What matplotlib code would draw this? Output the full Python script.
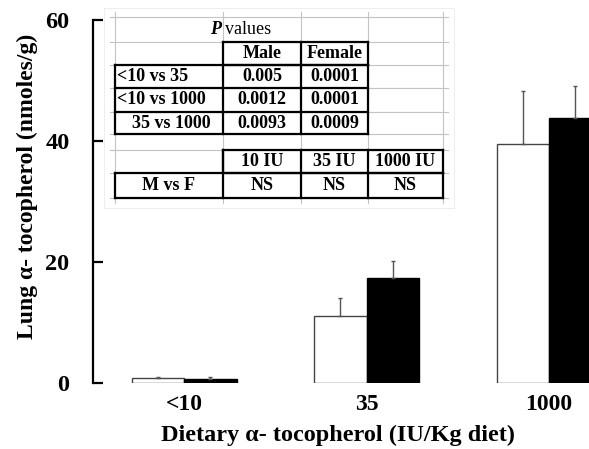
import matplotlib
matplotlib.use("Agg")
import matplotlib.pyplot as plt
import numpy as np

plt.rcParams['font.family'] = ['Liberation Serif', 'DejaVu Serif']
plt.rcParams['font.weight'] = 'bold'

# ---- data ----
categories = ["<10", "35", "1000"]
male_means = [0.8, 11.1, 39.5]
male_err = [0.25, 2.9, 8.8]
female_means = [0.7, 17.4, 43.8]
female_err = [0.3, 2.8, 5.3]
yticks = [0, 20, 40, 60]

# inset table content
pv_cols = ["Male", "Female"]
pv_rows = ["<10 vs 35", "<10 vs 1000", "35 vs 1000"]
pv_male = ["0.005", "0.0012", "0.0093"]
pv_female = ["0.0001", "0.0001", "0.0009"]
mf_cols = ["10 IU", "35 IU", "1000 IU"]
mf_vals = ["NS", "NS", "NS"]

W, H = 589, 449
fig = plt.figure(figsize=(W / 100, H / 100), dpi=100)
fig.patch.set_facecolor('white')

ax_left, ax_bot, ax_top = 93, 383, 20
ax = fig.add_axes([ax_left / W, (H - ax_bot) / H, (W - ax_left) / W, (ax_bot - ax_top) / H])
ax.set_ylim(0, 60)
px_per = 182.5
xmin = -(184 - ax_left) / px_per
ax.set_xlim(xmin, xmin + (W - ax_left) / px_per)

x = np.arange(len(categories))
bw = 52.5 / px_per
ax.bar(x - bw / 2, male_means, bw, color='white', edgecolor='#444444', linewidth=1.0,
       yerr=[np.zeros(3), male_err], ecolor='#555555', capsize=1.5, error_kw=dict(elinewidth=1.0, capthick=1.0),
       zorder=2)
ax.bar(x + bw / 2, female_means, bw, color='black', edgecolor='black', linewidth=1.0,
       yerr=[np.zeros(3), female_err], ecolor='#555555', capsize=1.5, error_kw=dict(elinewidth=1.0, capthick=1.0),
       zorder=2)

for s in ['top', 'right', 'bottom']:
    ax.spines[s].set_visible(False)
ax.spines['left'].set_linewidth(1.6)
ax.set_yticks(yticks)
ax.set_yticklabels([str(t) for t in yticks], fontsize=17.5, fontweight='bold')
ax.tick_params(axis='y', direction='in', length=7.5, width=1.6, pad=17)
ax.set_xticks(x)
ax.set_xticklabels(categories, fontsize=17, fontweight='bold')
ax.tick_params(axis='x', length=0, pad=8)

fig.text(338 / W, 1 - 435 / H, "Dietary \u03b1- tocopherol (IU/Kg diet)", ha='center', va='center',
         fontsize=17.5, fontweight='bold')
fig.text(27 / W, 1 - 186 / H, "Lung \u03b1- tocopherol (nmoles/g)", ha='center', va='center',
         rotation=90, fontsize=17, fontweight='bold')

# ---- inset table (pixel coordinates overlay) ----
ov = fig.add_axes([0, 0, 1, 1], zorder=5)
ov.set_xlim(0, W)
ov.set_ylim(H, 0)
ov.axis('off')

xs = [115, 223, 301, 368, 443]
ys = [17, 42, 65, 88, 112, 134, 150, 173, 198]
ov.add_patch(plt.Rectangle((104, 8), 350, 200, facecolor='white', edgecolor='#eeeeee', lw=0.8, zorder=1))
grey = '#c4c4c4'
for xv in xs:
    ov.plot([xv, xv], [12, 203], color=grey, lw=0.8, zorder=2)
for yv in ys:
    ov.plot([110, 448], [yv, yv], color=grey, lw=0.8, zorder=2)

lw = 1.6
def seg(x0, y0, x1, y1):
    ov.plot([x0, x1], [y0, y1], color='black', lw=lw, zorder=3, solid_capstyle='projecting')

def rect(x0, y0, x1, y1):
    seg(x0, y0, x1, y0); seg(x1, y0, x1, y1); seg(x1, y1, x0, y1); seg(x0, y1, x0, y0)

rect(223, 42, 368, 65)
seg(301, 42, 301, 65)
rect(115, 65, 368, 134)
seg(223, 65, 223, 134); seg(301, 65, 301, 134)
seg(115, 88, 368, 88); seg(115, 112, 368, 112)
rect(223, 150, 443, 173)
rect(115, 173, 443, 198)
seg(223, 150, 223, 198); seg(301, 150, 301, 198); seg(368, 150, 368, 198)

tfs = 13
ov.text(221, 30, "P", ha='right', va='center', fontsize=tfs, fontstyle='italic', fontweight='bold', zorder=4)
ov.text(225, 30, "values", ha='left', va='center', fontsize=tfs, fontweight='normal', zorder=4)
colc = [(xs[i] + xs[i + 1]) / 2 for i in range(4)]
for i, c in enumerate(pv_cols):
    ov.text(colc[1 + i], 53.5, c, ha='center', va='center', fontsize=tfs, fontweight='bold', zorder=4)
rowc = [(ys[2 + i] + ys[3 + i]) / 2 for i in range(3)]
row_x = [117, 117, 132]
for i, r in enumerate(pv_rows):
    ov.text(row_x[i], rowc[i], r, ha='left', va='center', fontsize=tfs, fontweight='bold', zorder=4)
    ov.text(colc[1], rowc[i], pv_male[i], ha='center', va='center', fontsize=tfs, fontweight='bold', zorder=4)
    ov.text(colc[2], rowc[i], pv_female[i], ha='center', va='center', fontsize=tfs, fontweight='bold', zorder=4)
for i, c in enumerate(mf_cols):
    ov.text(colc[1 + i], 161.5, c, ha='center', va='center', fontsize=tfs, fontweight='bold', zorder=4)
    ov.text(colc[1 + i], 185.5, mf_vals[i], ha='center', va='center', fontsize=tfs, fontweight='bold', zorder=4)
ov.text(colc[0], 185.5, "M vs F", ha='center', va='center', fontsize=tfs, fontweight='bold', zorder=4)

fig.savefig("out.png", dpi=100)
